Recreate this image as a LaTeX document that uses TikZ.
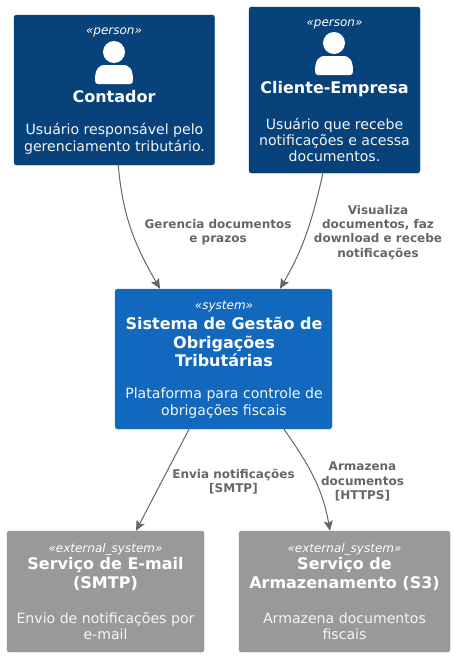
\documentclass[tikz,border=0pt]{standalone}
\usepackage{fontspec}
\setmainfont{DejaVu Sans}
\usetikzlibrary{arrows.meta}
\definecolor{personfill}{HTML}{08427B}
\definecolor{personline}{HTML}{073B6F}
\definecolor{systemfill}{HTML}{1168BD}
\definecolor{systemline}{HTML}{3C7FC0}
\definecolor{extfill}{HTML}{999999}
\definecolor{extline}{HTML}{8A8A8A}
\definecolor{linkgray}{HTML}{666666}
\tikzset{
personbox/.style={draw=personline, fill=personfill, rounded corners=2.5pt, inner sep=0pt},
systembox/.style={draw=systemline, fill=systemfill, rounded corners=2.5pt, inner sep=0pt},
extbox/.style={draw=extline, fill=extfill, rounded corners=2.5pt, inner sep=0pt},
stereo/.style={text=white, font=\fontsize{12}{14}\selectfont\itshape},
titletext/.style={text=white, align=center, font=\fontsize{16}{18.6}\selectfont\bfseries},
desctext/.style={text=white!96!black, align=center, font=\fontsize{14.1}{16.4}\selectfont},
linklabel/.style={text=linkgray, align=center, font=\fontsize{12}{14.2}\selectfont\bfseries},
link/.style={draw=linkgray, -{Stealth[length=10pt,width=9pt,inset=2pt]}, line width=1pt},
personicon/.pic={
    \fill[white] (0,0) circle (11);
    \fill[white] (-19,28) .. controls (-19,18) and (-16,13) .. (-9,13) -- (9,13)
        .. controls (16,13) and (19,18) .. (19,28) .. controls (19,31) and (18,32) .. (16,32)
        -- (-16,32) .. controls (-18,32) and (-19,31) .. (-19,28) -- cycle;
},
}

\begin{document}
\begin{tikzpicture}[x=1pt,y=-1pt]
    \useasboundingbox (0,0) rectangle (454,656);
    \node[personbox, minimum width=200.5pt, minimum height=150pt] (contador) at (114.25,90) {};
    \node[personbox, minimum width=171pt, minimum height=166pt] (cliente) at (334.5,90) {};
    \node[systembox, minimum width=217pt, minimum height=140pt] (sistema) at (223.5,359) {};
    \node[extbox, minimum width=197pt, minimum height=121pt] (smtp) at (105.5,591.5) {};
    \node[extbox, minimum width=211pt, minimum height=121pt] (s3) at (344.5,591.5) {};
    %contador
    \node[stereo] (contadorTipo) at (114,32) {«person»};
    \pic at (114,52) {personicon};
    \node[titletext] (contadorNome) at (114,97) {Contador};
    \node[desctext] (contadorDesc) at (114.5,139) {Usuário responsável pelo\\gerenciamento tributário.};
    %cliente
    \node[stereo] (clienteTipo) at (334.5,24) {«person»};
    \pic at (334,43) {personicon};
    \node[titletext] (clienteNome) at (334.5,89) {Cliente-Empresa};
    \node[desctext] (clienteDesc) at (334.5,140) {Usuário que recebe\\notificações e acessa\\documentos.};
    %sistema
    \node[stereo] (sistemaTipo) at (224,307) {«system»};
    \node[titletext] (sistemaNome) at (224,342) {Sistema de Gestão de\\Obrigações\\Tributárias};
    \node[desctext] (sistemaDesc) at (224,403) {Plataforma para controle de\\obrigações fiscais};
    %externos
    \node[stereo] (smtpTipo) at (105.5,549) {«external\_system»};
    \node[titletext] (smtpNome) at (105.5,574) {Serviço de E-mail\\(SMTP)};
    \node[desctext] (smtpDesc) at (105.5,626) {Envio de notificações por\\e-mail};
    \node[stereo] (s3Tipo) at (344.5,549) {«external\_system»};
    \node[titletext] (s3Nome) at (344.5,574) {Serviço de\\Armazenamento (S3)};
    \node[desctext] (s3Desc) at (344.5,626) {Armazena documentos\\fiscais};
    %ligacoes
    \draw[link] ([xshift=4pt]contador.south) to[out=-85,in=120] ([xshift=-63.5pt]sistema.north);
    \draw[link] ([xshift=-11.5pt]cliente.south) to[out=-103,in=60] ([xshift=56.5pt]sistema.north);
    \draw[link] ([xshift=-34.5pt]sistema.south) to ([xshift=30.5pt]smtp.north);
    \draw[link] ([xshift=60.5pt]sistema.south) to[out=-55,in=100] ([xshift=-14.5pt]s3.north);
    \node[linklabel] (gerenciaRotulo) at (218,232.5) {Gerencia documentos\\e prazos};
    \node[linklabel] (visualizaRotulo) at (378,232.5) {Visualiza\\documentos, faz\\download e recebe\\notificações};
    \node[linklabel] (enviaRotulo) at (233.5,481.5) {Envia notificações\\{[}SMTP{]}};
    \node[linklabel] (armazenaRotulo) at (362.5,481.5) {Armazena\\documentos\\{[}HTTPS{]}};
\end{tikzpicture}
\end{document}
